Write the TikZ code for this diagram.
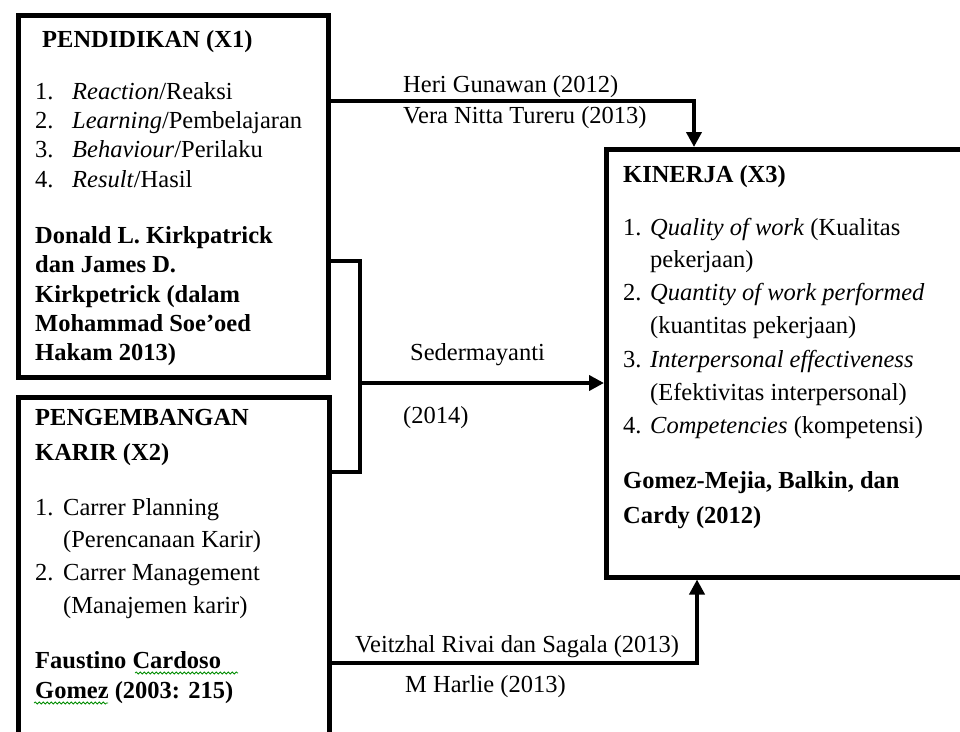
\documentclass[tikz,border=0pt]{standalone}
\usepackage{fontspec}
\setmainfont{Liberation Serif}
\usetikzlibrary{arrows.meta,decorations.pathmorphing}
\newcommand{\fsz}{\fontsize{24.5}{30}\selectfont}
\tikzset{
  txt/.style={anchor=base west, inner sep=0pt, font=\fsz},
  btxt/.style={txt, font=\fsz\bfseries},
  boxframe/.style={draw=black, line width=4.5pt, inner sep=0pt, anchor=north west},
  conn/.style={draw=black, line width=4pt},
  arr/.style={conn, -{Triangle[length=15pt,width=15pt]}},
  squig/.style={draw=green!55!black, line width=0.8pt, decorate, decoration={snake, segment length=4pt, amplitude=1pt}}
}
\begin{document}
\begin{tikzpicture}[x=1pt,y=-1pt]
\useasboundingbox (0,0) rectangle (960,731);
\clip (0,0) rectangle (960,731);
\fill[white] (0,0) rectangle (960,731);
% boxes
\node[boxframe, minimum width=310pt, minimum height=362pt] (b1) at (16,13) {};
\node[boxframe, minimum width=311pt, minimum height=420pt] (b2) at (16,395) {};
\node[boxframe, minimum width=420pt, minimum height=428pt] (b3) at (604,147) {};
% connector points
\coordinate (p1) at (694,101);
\coordinate (q1) at (360,261);
\coordinate (q2) at (360,472);
\coordinate (q3) at (360,383);
\coordinate (p3) at (697,663);
% connectors
\draw[arr] (b1.east |- p1) -- (p1) -- (p1 |- b3.north);
\draw[conn] (b1.east |- q1) -- (q1) -- (q2) -- (b2.east |- q2);
\draw[arr] (q3) -- (b3.west |- q3);
\draw[arr] (b2.east |- p3) -- (p3) -- (p3 |- b3.south);
% box 1 text
\node[btxt] (t1a) at (42,47) {PENDIDIKAN (X1)};
\node[txt] (t1n1) at (35,99) {1.};
\node[txt] (t1i1) at (72,99) {\textit{Reaction}/Reaksi};
\node[txt] (t1n2) at (35,128) {2.};
\node[txt] (t1i2) at (72,128) {\textit{Learning}/Pembelajaran};
\node[txt] (t1n3) at (35,157) {3.};
\node[txt] (t1i3) at (72,157) {\textit{Behaviour}/Perilaku};
\node[txt] (t1n4) at (35,187) {4.};
\node[txt] (t1i4) at (72,187) {\textit{Result}/Hasil};
\node[btxt] (t1r1) at (35,243) {Donald L. Kirkpatrick};
\node[btxt] (t1r2) at (35,272) {dan James D.};
\node[btxt] (t1r3) at (35,302) {Kirkpetrick (dalam};
\node[btxt] (t1r4) at (35,331) {Mohammad Soe’oed};
\node[btxt] (t1r5) at (35,360) {Hakam 2013)};
% box 2 text
\node[btxt] (t2a) at (35,425) {PENGEMBANGAN};
\node[btxt] (t2b) at (35,460) {KARIR (X2)};
\node[txt] (t2n1) at (35,515) {1.};
\node[txt] (t2i1) at (63,515) {Carrer Planning};
\node[txt] (t2i1b) at (63,547) {(Perencanaan Karir)};
\node[txt] (t2n2) at (35,580) {2.};
\node[txt] (t2i2) at (63,580) {Carrer Management};
\node[txt] (t2i2b) at (63,613) {(Manajemen karir)};
\node[btxt] (t2r1) at (35,668) {Faustino Cardoso};
\node[btxt] (t2r2) at (35,698) {Gomez (2003: 215)};
\coordinate (s1a) at (135,673);
\coordinate (s1b) at (238,673);
\coordinate (s2a) at (34,703);
\coordinate (s2b) at (108,703);
\draw[squig] (s1a) -- (s1b);
\draw[squig] (s2a) -- (s2b);
% box 3 text
\node[btxt] (t3a) at (623,182) {KINERJA (X3)};
\node[txt] (t3n1) at (623,235) {1.};
\node[txt] (t3i1) at (650,235) {\textit{Quality of work} (Kualitas};
\node[txt] (t3i1b) at (650,267) {pekerjaan)};
\node[txt] (t3n2) at (623,300) {2.};
\node[txt] (t3i2) at (650,300) {\textit{Quantity of work performed}};
\node[txt] (t3i2b) at (650,333) {(kuantitas pekerjaan)};
\node[txt] (t3n3) at (623,367) {3.};
\node[txt] (t3i3) at (650,367) {\textit{Interpersonal effectiveness}};
\node[txt] (t3i3b) at (650,400) {(Efektivitas interpersonal)};
\node[txt] (t3n4) at (623,433) {4.};
\node[txt] (t3i4) at (650,433) {\textit{Competencies} (kompetensi)};
\node[btxt] (t3r1) at (623,488) {Gomez-Mejia, Balkin, dan};
\node[btxt] (t3r2) at (623,523) {Cardy (2012)};
% connector labels
\node[txt] (l1) at (403,92) {Heri Gunawan (2012)};
\node[txt] (l2) at (403,123) {Vera Nitta Tureru (2013)};
\node[txt] (l3) at (410,360) {Sedermayanti};
\node[txt] (l4) at (403,423) {(2014)};
\node[txt] (l5) at (355,652) {Veitzhal Rivai dan Sagala (2013)};
\node[txt] (l6) at (405,692) {M Harlie (2013)};
\end{tikzpicture}
\end{document}
